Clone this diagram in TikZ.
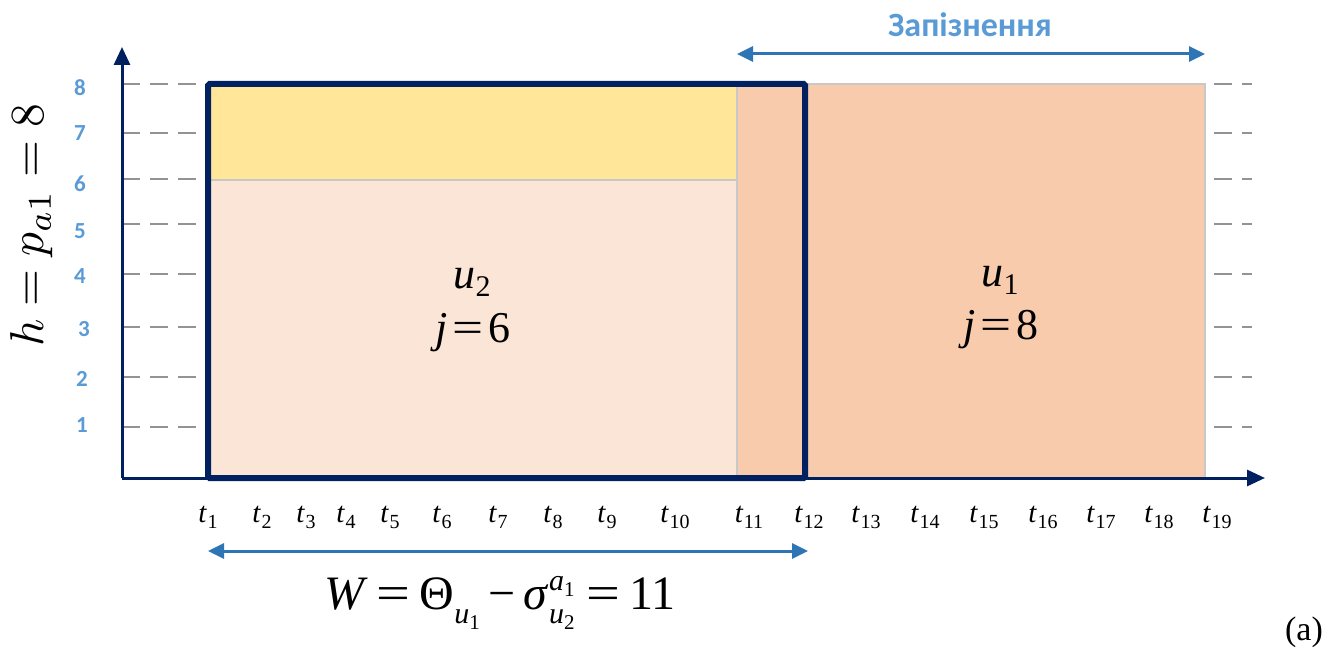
\documentclass[tikz,border=0pt]{standalone}
\usepackage[no-math]{fontspec}
\setmainfont{Liberation Serif}
\newfontfamily\calib{Carlito}
\usetikzlibrary{arrows.meta}
\definecolor{navy}{HTML}{002060}
\definecolor{lblue}{HTML}{5B9BD5}
\definecolor{ablue}{HTML}{2E75B6}
\definecolor{yel}{HTML}{FFE699}
\definecolor{peach}{HTML}{FBE5D6}
\definecolor{orng}{HTML}{F8CBAD}
\definecolor{edge}{HTML}{C8C8C8}
\newcommand\tlab[1]{\textit{t}\kern0.5pt\raisebox{-6pt}{\fontsize{20}{20}\selectfont #1}}
\newcommand\smsc[1]{{\fontsize{30}{30}\selectfont #1}}
\newcommand\ssmsc[1]{{\fontsize{21}{21}\selectfont #1}}
\newcommand\weq{\scalebox{1.25}[1]{=}}
\begin{document}
\begin{tikzpicture}[x=1pt,y=-1pt,
  grid/.style={draw=gray!85, line width=1.2pt, dash pattern=on 18pt off 10pt},
  axisline/.style={draw=navy, line width=3pt, -{Triangle[length=18pt,width=16pt]}},
  dblarrow/.style={draw=ablue, line width=3pt, {Triangle[length=16pt,width=15pt]}-{Triangle[length=16pt,width=15pt]}},
  ynum/.style={text=lblue, font=\calib\bfseries\fontsize{23}{23}\selectfont, inner sep=0pt},
  tl/.style={font=\fontsize{29}{29}\selectfont, inner sep=0pt, anchor=base},
  big/.style={font=\fontsize{44}{44}\selectfont, inner sep=0pt, anchor=base}]
\useasboundingbox (0,0) rectangle (1339,652);
% grid lines
\foreach \yy in {84,133,179,224,274,327,377,427}
  \draw[grid] (122,\yy) -- (1252,\yy);
% fills
\fill[peach] (208,180) rectangle (737,478);
\fill[yel] (208,84) rectangle (737,180);
\fill[orng] (737,84) rectangle (1205,478);
\draw[edge, line width=1.2pt] (208,180) -- (737,180);
\draw[edge, line width=1.2pt] (737,84) -- (737,478);
\draw[edge, line width=1.2pt] (737,84) -- (1205,84) -- (1205,478);
% axes
\coordinate (O) at (122,478);
\coordinate (ytop) at (122,47);
\coordinate (xend) at (1265,478);
\draw[axisline] (O) -- (ytop);
\draw[axisline] (O) -- (xend);
% thick frame
\draw[navy, line width=6pt, rounded corners=1.5pt] (208,84) rectangle (805,478);
% y numbers
\node[ynum] (n8) at (80,88) {8};
\node[ynum] (n7) at (80,133) {7};
\node[ynum] (n6) at (80,184) {6};
\node[ynum] (n5) at (80,231) {5};
\node[ynum] (n4) at (80,276) {4};
\node[ynum] (n3) at (84,329) {3};
\node[ynum] (n2) at (82,379) {2};
\node[ynum] (n1) at (82,425) {1};
% y label
\node[rotate=90] (ylab) at (32,225) {\scalebox{4.75}{$h=p_{a1}=8$}};
% t labels
\foreach \i/\xx in {1/208,2/262,3/306,4/346,5/390,6/442,7/498,8/553,9/607,10/675,11/749,12/809,13/866,14/925,15/984,16/1043,17/1101,18/1159,19/1217}
  \node[tl] (t\i) at (\xx,522) {\tlab{\i}};
% block labels
\node[big] (u2) at (472,289) {\textit{u}\raisebox{-8pt}{\smsc{2}}};
\node[big] (j6) at (473,342) {\textit{j}\hspace{5pt}\weq\hspace{5pt}6};
\node[big] (u1) at (1000,287) {\textit{u}\raisebox{-8pt}{\smsc{1}}};
\node[big] (j8) at (1001,340) {\textit{j}\hspace{5pt}\weq\hspace{5pt}8};
% delay arrow
\coordinate (da) at (737,54);
\coordinate (db) at (1205,54);
\draw[dblarrow] (da) -- (db);
\node[text=lblue, font=\calib\bfseries\fontsize{34}{34}\selectfont] (title) at (970,25) {Запізнення};
% window arrow
\coordinate (wa) at (208,551);
\coordinate (wb) at (808,551);
\draw[dblarrow] (wa) -- (wb);
\node[font=\fontsize{48}{48}\selectfont, inner sep=0pt] (form) at (500,603)
  {\textit{W}\hspace{9pt}\weq\hspace{9pt}Θ\raisebox{-14pt}{\smsc{\textit{u}\raisebox{-6pt}{\ssmsc{1}}}}\hspace{9pt}−\hspace{8pt}\textit{σ}\rlap{\raisebox{19pt}{\smsc{\textit{a}\raisebox{-6pt}{\ssmsc{1}}}}}\raisebox{-14pt}{\smsc{\textit{u}\raisebox{-6pt}{\ssmsc{2}}}}\hspace{12pt}\weq\hspace{9pt}11};
\node[font=\fontsize{34}{34}\selectfont, inner sep=0pt] (lab) at (1304,632) {(a)};
\end{tikzpicture}
\end{document}
